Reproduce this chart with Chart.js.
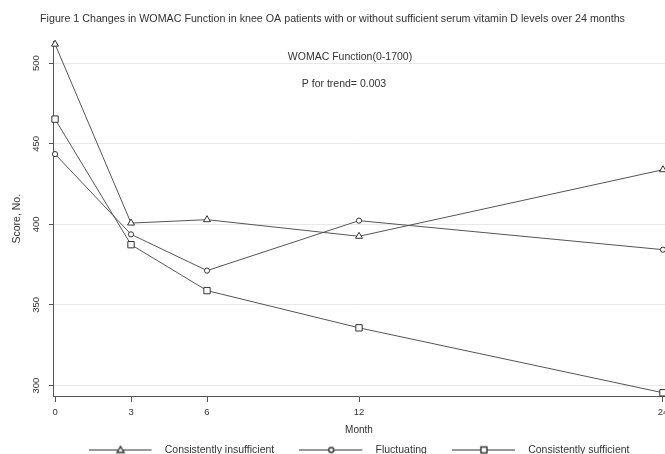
<!DOCTYPE html>
<html><head><meta charset="utf-8">
<script src="https://cdn.jsdelivr.net/npm/chart.js@4.4.1/dist/chart.umd.min.js"></script>
<style>html,body{margin:0;padding:0;background:#fff}</style>
</head><body>
<canvas id="c" width="665" height="454"></canvas>
<script>
// ---- data ----
const months = [0, 3, 6, 12, 24];
const consistentlyInsufficient = [511.8, 400.8, 402.9, 392.6, 433.9];
const fluctuating = [443.6, 393.8, 371.3, 402.3, 384.3];
const consistentlySufficient = [465.3, 387.4, 358.9, 335.8, 295.5];
const seriesNames = ['Consistently insufficient', 'Fluctuating', 'Consistently sufficient'];
const xTicks = [0, 3, 6, 12, 24];
const yTicks = [300, 350, 400, 450, 500];
const titleText = 'Figure 1 Changes in WOMAC Function in knee OA patients with or without sufficient serum vitamin D levels over 24 months';
const noteLines = ['WOMAC Function(0-1700)', 'P for trend= 0.003'];

const FAMILY = '"Liberation Sans", Arial, Helvetica, sans-serif';
Chart.defaults.font.family = FAMILY;
Chart.defaults.color = '#333';

const LINE = '#555';
const MARK = '#333';
const styles = ['triangle', 'circle', 'rect'];
const radii = [4, 2.6, 4.5];
const seriesValues = [consistentlyInsufficient, fluctuating, consistentlySufficient];

function legendImg(kind) {
  const c = document.createElement('canvas');
  c.width = 71; c.height = 11;
  const g = c.getContext('2d');
  g.strokeStyle = MARK; g.lineWidth = 1;
  g.beginPath(); g.moveTo(0, 5.5); g.lineTo(63, 5.5); g.stroke();
  const cx = 32, cy = 5.5;
  g.fillStyle = '#fff';
  g.beginPath();
  if (kind === 'triangle') { g.moveTo(cx, cy - 3.5); g.lineTo(cx + 3.5, cy + 2.5); g.lineTo(cx - 3.5, cy + 2.5); g.closePath(); }
  else if (kind === 'circle') { g.arc(cx, cy, 2.5, 0, Math.PI * 2); }
  else { g.rect(cx - 3, cy - 3, 6, 6); }
  g.fill(); g.lineWidth = 1.4; g.stroke();
  return c;
}
const legendImgs = styles.map(legendImg);

const datasets = seriesNames.map((name, i) => ({
  label: name,
  data: months.map((m, k) => ({ x: m, y: seriesValues[i][k] })),
  borderColor: LINE,
  borderWidth: 1,
  pointStyle: styles[i],
  pointRadius: radii[i],
  pointBorderColor: MARK,
  pointBackgroundColor: '#fff',
  pointBorderWidth: 1,
  tension: 0,
  clip: false
}));

const notes = {
  id: 'notes',
  afterDatasetsDraw(chart) {
    const { ctx, chartArea: a } = chart;
    ctx.save();
    ctx.font = '10.5px ' + FAMILY;
    ctx.fillStyle = '#333';
    ctx.textAlign = 'center';
    ctx.textBaseline = 'middle';
    ctx.fillText(noteLines[0], a.left + 297, a.top + 16);
    ctx.fillText(noteLines[1], a.left + 291, a.top + 43);
    ctx.restore();
  }
};

new Chart(document.getElementById('c'), {
  type: 'line',
  data: { datasets },
  plugins: [notes],
  options: {
    responsive: false,
    animation: false,
    devicePixelRatio: 1,
    layout: { autoPadding: false, padding: { top: 0, left: 0, right: 0, bottom: -11.25 } },
    plugins: {
      tooltip: { enabled: false },
      title: {
        display: true, text: titleText, color: '#333',
        font: { size: 10.7, weight: 'normal' },
        padding: { top: 12.3, bottom: 16.3 }
      },
      legend: {
        position: 'bottom', fullSize: false, align: 'center',
        labels: {
          usePointStyle: true, pointStyleWidth: 71, padding: 25,
          color: '#333', font: { size: 10.5 },
          generateLabels: () => seriesNames.map((n, i) => ({
            text: n, pointStyle: legendImgs[i], fillStyle: '#fff',
            strokeStyle: MARK, lineWidth: 0, hidden: false, datasetIndex: i, fontColor: '#333'
          }))
        }
      }
    },
    scales: {
      x: {
        type: 'linear', min: -0.08, max: 24.08,
        afterBuildTicks: s => { s.ticks = xTicks.map(v => ({ value: v })); },
        afterFit: s => { s.height = 23.75; s.paddingLeft = 0; s.paddingRight = 0; },
        ticks: { font: { size: 9.5 }, color: '#333', padding: 5, maxRotation: 0, autoSkip: false },
        grid: { drawOnChartArea: false, tickColor: LINE, tickLength: 6 },
        border: { color: LINE, width: 1 },
        title: { display: true, text: 'Month', color: '#333', font: { size: 10 }, padding: { top: 0, bottom: -16.75 } }
      },
      y: {
        type: 'linear', min: 293.5, max: 513.5,
        afterBuildTicks: s => { s.ticks = yTicks.map(v => ({ value: v })); },
        afterFit: s => { s.width = 53; s.paddingTop = 0; s.paddingBottom = 0; },
        ticks: { font: { size: 9.5 }, color: '#333', minRotation: 90, maxRotation: 90, crossAlign: 'center', padding: 5 },
        grid: { color: '#e8e8e8', tickColor: LINE, tickLength: 4 },
        border: { color: LINE, width: 1 },
        title: { display: true, text: 'Score, No.', color: '#333', font: { size: 10.5 }, padding: { top: 10.5, bottom: 0 } }
      }
    }
  }
});
</script>
</body></html>
